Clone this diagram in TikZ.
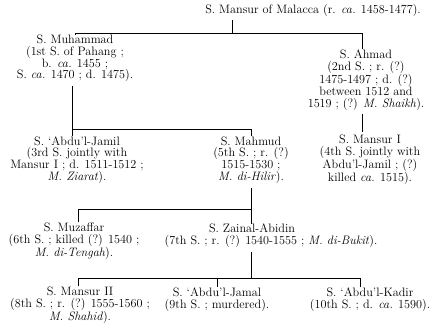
\documentclass[tikz,border=0pt]{standalone}
\begin{document}
\begin{tikzpicture}[x=1pt,y=-1pt,line width=0.7pt,
        every node/.style={align=center,inner sep=0pt,
                font=\fontsize{12.2}{11.8}\selectfont}]
    \useasboundingbox (0,0) rectangle (437,331);

    % first generation
    \node (mansur) at (313,10) {S. Mansur of Malacca (r. \textit{ca.} 1458-1477).};
    \node (muhammad) at (75,58.5) {S. Muhammad\\(1st S. of Pahang ;\\b. \textit{ca.} 1455 ;\\S. \textit{ca.} 1470 ; d. 1475).};
    \node (ahmad) at (366,80) {S. Ahmad\\(2nd S. ; r. (?)\\1475-1497 ; d. (?)\\between 1512 and\\1519 ; (?) \textit{M. Shaikh}).};

    % second generation
    \node (jamil) at (77,160) {S. `Abdu'l-Jamil\\(3rd S. jointly with\\Mansur I ; d. 1511-1512 ;\\\textit{M. Ziarat}).};
    \node (mahmud) at (251,160) {S. Mahmud\\(5th S. ; r. (?)\\1515-1530 ;\\\textit{M. di-Hilir}).};
    \node (mansurI) at (370,160) {S. Mansur I\\(4th S. jointly with\\Abdu'l-Jamil ; (?)\\killed \textit{ca.} 1515).};

    % third generation
    \node (muzaffar) at (74,241) {S. Muzaffar\\(6th S. ; killed (?) 1540 ;\\\textit{M. di-Tengah}).};
    \node (zainal) at (271,236) {S. Zainal-Abidin\hspace*{38pt}\\(7th S. ; r. (?) 1540-1555 ; \textit{M. di-Bukit}).};

    % fourth generation
    \node (mansurII) at (80,305) {S. Mansur II\\(8th S. ; r. (?) 1555-1560 ;\\\textit{M. Shahid}).};
    \node (jamal) at (217,299.5) {S. `Abdu'l-Jamal\\(9th S. ; murdered).};
    \node (kadir) at (370,299.5) {S. `Abdu'l-Kadir\\(10th S. ; d. \textit{ca.} 1590).};

    % bars
    \coordinate (b1) at (232,33);
    \coordinate (b2) at (0,129);
    \coordinate (b3) at (0,209);
    \coordinate (b4) at (0,278);

    \draw[shorten <=4pt] (mansur.south -| b1) -- (b1);
    \draw (muhammad.north) -- (muhammad.north |- b1) -- ([xshift=-4pt]ahmad.north |- b1) -- ([xshift=-4pt]ahmad.north);

    \draw[shorten <=4pt] ([xshift=-5pt]muhammad.south -| jamil.north) -- ([xshift=-5pt]jamil.north);
    \draw ([xshift=-5pt]jamil.north |- b2) -- (mahmud.north |- b2) -- (mahmud.north);
    \draw[shorten <=3pt,shorten >=3pt] ([xshift=-4pt]ahmad.south) -- ([xshift=-8pt]mansurI.north);

    \draw[shorten <=4pt] (mahmud.south) -- (mahmud.south |- b3);
    \draw ([xshift=4pt]muzaffar.north) -- ([xshift=4pt]muzaffar.north |- b3) -- (mahmud.south |- b3) -- (zainal.north -| mahmud.south);

    \draw[shorten <=4pt] (zainal.south -| mahmud.south) -- (mahmud.south |- b4);
    \draw ([xshift=-2pt]mansurII.north) -- ([xshift=-2pt]mansurII.north |- b4) -- ([xshift=-10pt]kadir.north |- b4) -- ([xshift=-10pt]kadir.north);
    \draw (jamal.north |- b4) -- (jamal.north);
\end{tikzpicture}
\end{document}
